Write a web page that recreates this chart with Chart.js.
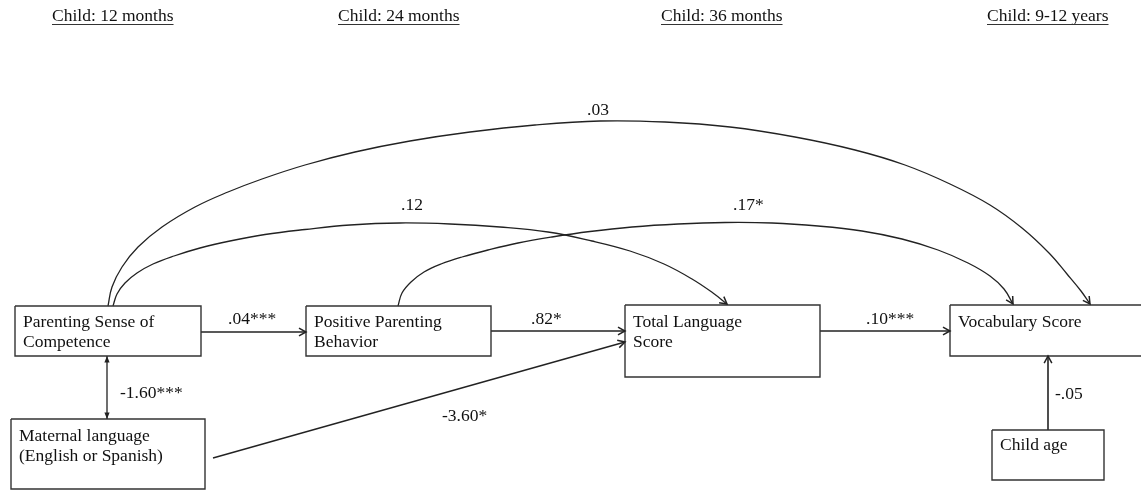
<!DOCTYPE html>
<html><head><meta charset="utf-8">
<script src="https://cdn.jsdelivr.net/npm/chart.js@4.4.0/dist/chart.umd.min.js"></script>
<style>html,body{margin:0;padding:0;background:#fff;}canvas{display:block;}</style>
</head><body>
<canvas id="c" width="1141" height="491"></canvas>
<script>
// ---- data (diagram units: x 0..1141, y 0..491 top-down) ----
const periodLabels = ['Child: 12 months', 'Child: 24 months', 'Child: 36 months', 'Child: 9-12 years'];
const periodX = [52, 338, 661, 987];
const periodY = [16, 16, 16, 16];

const nodeLabels = ['Parenting Sense of\nCompetence', 'Positive Parenting\nBehavior', 'Total Language\nScore',
  'Vocabulary Score', 'Maternal language\n(English or Spanish)', 'Child age'];
const nodeLeft   = [15, 306, 625, 950, 11, 992];
const nodeRight  = [201, 491, 820, 1150, 205, 1104];
const nodeTop    = [306, 306, 305, 305, 419, 430];
const nodeBottom = [356, 356, 377, 356, 489, 480];
const nodeTextY  = [322, 322, 322, 322, 436, 445];

const edgeCoefs  = ['.04***', '.82*', '.10***', '-1.60***', '-3.60*', '-.05', '.03', '.12', '.17*'];
const coefX      = [228, 531, 866, 120, 442, 1055, 587, 401, 733];
const coefY      = [319, 319, 319, 393, 416, 394, 110, 205, 205];

// paths for each edge (straight ones: two points; curved ones: points)
const pscToPpbX = [201, 306],  pscToPpbY = [332, 332];
const ppbToTlsX = [491, 625],  ppbToTlsY = [331, 331];
const tlsToVocX = [820, 950],  tlsToVocY = [331, 331];
const pscMatX   = [107, 107],  pscMatY   = [356, 419];
const matToTlsX = [213, 625],  matToTlsY = [458, 342];
const ageToVocX = [1048, 1048], ageToVocY = [430, 356];
const curve03X = [108, 112, 122, 138, 162, 195, 228, 262, 305, 355, 410, 470, 535, 600, 665, 730, 795, 855, 905, 950, 990, 1022, 1049, 1067, 1081, 1090];
const curve03Y = [306, 287, 267, 247, 227, 207, 192, 179, 165, 152, 141, 132, 125, 121, 122, 127, 137, 150, 165, 184, 205, 228, 253, 274, 291, 304];
const curve12X = [113, 117, 125, 137, 153, 174, 200, 230, 265, 305, 350, 400, 450, 500, 548, 592, 630, 664, 692, 713, 727];
const curve12Y = [306, 294, 283, 273, 264, 256, 248, 241, 234.5, 229.5, 225, 223, 224, 227, 232, 241, 251, 264, 279, 293, 304];
const curve17X = [398, 402, 411, 424, 441, 462, 488, 518, 552, 590, 632, 678, 725, 772, 818, 862, 902, 938, 968, 990, 1004, 1013];
const curve17Y = [306, 293, 282, 272, 264, 257, 250, 243, 237, 231.5, 227, 224, 222.5, 223, 226, 231, 239, 250, 263, 276, 289, 304];

// ---- build ----
const LINE = '#222';
const FONT = '"Liberation Serif", "Times New Roman", serif';
function pts(xs, ys) { return xs.map((x, i) => ({x: x, y: ys[i]})); }

const datasets = [];
nodeLabels.forEach((n, i) => {
  datasets.push({
    data: [{x: nodeLeft[i], y: nodeTop[i]}, {x: nodeRight[i], y: nodeTop[i]},
           {x: nodeRight[i], y: nodeBottom[i]}, {x: nodeLeft[i], y: nodeBottom[i]},
           {x: nodeLeft[i], y: nodeTop[i]}],
    borderColor: '#333', borderWidth: 1.4, showLine: true, tension: 0, pointRadius: 0
  });
});
const edgePaths = [
  [pscToPpbX, pscToPpbY, false], [ppbToTlsX, ppbToTlsY, false], [tlsToVocX, tlsToVocY, false],
  [pscMatX, pscMatY, true], [matToTlsX, matToTlsY, false], [ageToVocX, ageToVocY, false],
  [curve03X, curve03Y, false], [curve12X, curve12Y, false], [curve17X, curve17Y, false]
];
edgePaths.forEach((e, i) => {
  const curved = i >= 6;
  datasets.push({
    data: pts(e[0], e[1]), borderColor: LINE, borderWidth: i === 5 ? 1.6 : 1.3,
    showLine: true, pointRadius: 0, tension: curved ? 0.4 : 0,
    arrowEnd: true, arrowStart: e[2], arrowFilled: e[2], curved: curved
  });
});

const arrowPlugin = {
  id: 'arrows',
  afterDatasetsDraw(chart) {
    const ctx = chart.ctx;
    chart.data.datasets.forEach((ds, di) => {
      if (!ds.arrowEnd) return;
      const els = chart.getDatasetMeta(di).data;
      const draw = (tip, from) => {
        const ang = Math.atan2(tip.y - from.y, tip.x - from.x);
        const L = ds.arrowFilled ? 7 : 8, a = ds.arrowFilled ? 0.38 : 0.5;
        ctx.save();
        ctx.strokeStyle = LINE; ctx.fillStyle = LINE; ctx.lineWidth = 1.5;
        ctx.beginPath();
        ctx.moveTo(tip.x - L * Math.cos(ang - a), tip.y - L * Math.sin(ang - a));
        ctx.lineTo(tip.x, tip.y);
        ctx.lineTo(tip.x - L * Math.cos(ang + a), tip.y - L * Math.sin(ang + a));
        if (ds.arrowFilled) { ctx.closePath(); ctx.fill(); } else { ctx.stroke(); }
        ctx.restore();
      };
      const last = els[els.length - 1], prev = els[els.length - 2];
      const useCp = ds.curved && last.cp1x !== undefined && (last.cp1x !== last.x || last.cp1y !== last.y);
      draw(last, useCp ? {x: last.cp1x, y: last.cp1y} : prev);
      if (ds.arrowStart) draw(els[0], els[1]);
    });
  }
};

const textPlugin = {
  id: 'texts',
  afterDraw(chart) {
    const ctx = chart.ctx, sx = chart.scales.x, sy = chart.scales.y;
    ctx.save();
    ctx.fillStyle = '#111';
    ctx.textBaseline = 'middle';
    ctx.textAlign = 'left';
    ctx.font = '17.5px ' + FONT;
    // period headers, underlined
    periodLabels.forEach((t, i) => {
      const x = sx.getPixelForValue(periodX[i]), y = sy.getPixelForValue(periodY[i]);
      ctx.fillText(t, x, y);
      const w = ctx.measureText(t).width;
      ctx.strokeStyle = '#333'; ctx.lineWidth = 1;
      ctx.beginPath(); ctx.moveTo(x, y + 8.5); ctx.lineTo(x + w, y + 8.5); ctx.stroke();
    });
    // node labels
    nodeLabels.forEach((t, i) => {
      t.split('\n').forEach((line, k) => {
        ctx.fillText(line, sx.getPixelForValue(nodeLeft[i] + 8), sy.getPixelForValue(nodeTextY[i] + k * 20.5));
      });
    });
    // coefficients
    edgeCoefs.forEach((t, i) => {
      ctx.fillText(t, sx.getPixelForValue(coefX[i]), sy.getPixelForValue(coefY[i]));
    });
    ctx.restore();
  }
};

new Chart(document.getElementById('c'), {
  type: 'scatter',
  data: { datasets: datasets },
  options: {
    responsive: false, animation: false, devicePixelRatio: 1,
    layout: { padding: 0 },
    plugins: { legend: { display: false }, tooltip: { enabled: false } },
    scales: {
      x: { type: 'linear', min: 0, max: 1141, display: false },
      y: { type: 'linear', min: 0, max: 491, reverse: true, display: false }
    }
  },
  plugins: [arrowPlugin, textPlugin]
});
</script>
</body></html>
